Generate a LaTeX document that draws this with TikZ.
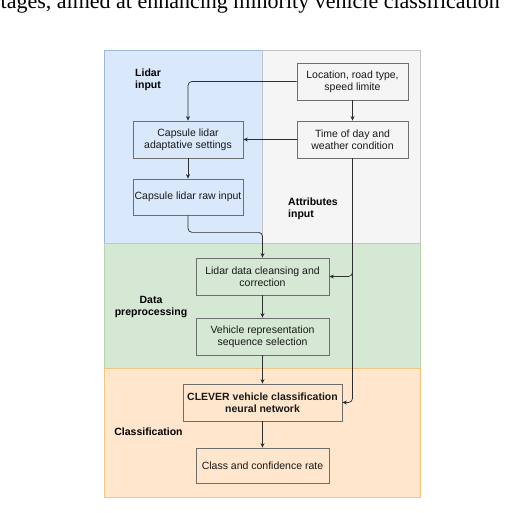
\documentclass[tikz,border=0pt]{standalone}
\usepackage{fontspec}
\setmainfont{Liberation Sans}
\newfontfamily\capfont{Liberation Serif}
\usetikzlibrary{arrows.meta,calc}
\definecolor{bluefill}{HTML}{DAE8FC}
\definecolor{bluestroke}{HTML}{9DB6DE}
\definecolor{greyfill}{HTML}{F5F5F5}
\definecolor{greystroke}{HTML}{C4C4C4}
\definecolor{greenfill}{HTML}{D5E8D4}
\definecolor{greenstroke}{HTML}{B5D5A8}
\definecolor{orangefill}{HTML}{FFE6CC}
\definecolor{orangestroke}{HTML}{F2C682}
\definecolor{boxstroke}{HTML}{6E6E6E}
\definecolor{linecol}{HTML}{2E2E2E}
\begin{document}
\begin{tikzpicture}[x=1pt,y=-1pt,
  region/.style={draw=#1stroke,fill=#1fill,line width=0.8pt},
  stepbox/.style={draw=boxstroke,line width=0.7pt,align=center,inner sep=1pt,
    font=\fontsize{10.5}{12}\selectfont,text=black!90},
  lab/.style={align=center,font=\fontsize{10.5}{12.5}\selectfont\bfseries,text=black},
  arr/.style={draw=linecol,line width=0.7pt,-{Stealth[length=4.5pt,width=4pt]},rounded corners=4pt}]
\useasboundingbox (0,0) rectangle (513,513);
% caption (cropped at the top, as in the reference)
\node[anchor=base west,inner sep=0,font=\capfont\fontsize{22}{24}\selectfont] (cap0) at (0.5,9) {tages, aimed at enhancing minority vehicle classification};
% regions
\path[region=blue] (104,50.5) rectangle (262,243.5);
\path[region=grey] (262,50.5) rectangle (420,243.5);
\path[region=green] (104,243.5) rectangle (420,368);
\path[region=orange] (104,368) rectangle (420,497);
% region labels
\node[lab] (llidar) at (148,80) {Lidar\\input};
\node[lab,align=left] (lattr) at (313,209) {Attributes\\input};
\node[lab] (ldata) at (151,307) {Data\\preprocessing};
\node[lab] (lclass) at (148.5,432) {Classification};
% boxes
\node[stepbox,minimum width=111pt,minimum height=37pt] (loc) at (352.5,81.5) {Location, road type,\\speed limite};
\node[stepbox,minimum width=111pt,minimum height=37pt] (time) at (352.5,139.5) {Time of day and\\weather condition};
\node[stepbox,minimum width=110pt,minimum height=37pt] (cap) at (188,139.5) {Capsule lidar\\adaptative settings};
\node[stepbox,minimum width=110pt,minimum height=36pt] (raw) at (188,197) {Capsule lidar raw input};
\node[stepbox,minimum width=133pt,minimum height=37pt] (clean) at (262.5,276.5) {Lidar data cleansing and\\correction};
\node[stepbox,minimum width=133pt,minimum height=37pt] (veh) at (262.5,336.5) {Vehicle representation\\sequence selection};
\node[stepbox,minimum width=159pt,minimum height=37pt,font=\fontsize{10.5}{12}\selectfont\bfseries] (clever) at (262.5,402.5) {CLEVER vehicle classification\\neural network};
\node[stepbox,minimum width=133pt,minimum height=35pt] (cls) at (262.5,465.5) {Class and confidence rate};
% connectors
\draw[arr] (loc.west) -| (cap.north);
\draw[arr] (loc.south) -- (time.north);
\draw[arr] (time.west) -- (cap.east);
\draw[arr] (cap.south) -- (raw.north);
\draw[arr] (raw.south) -- ++(0,17) -| (clean.north);
\draw[arr] (time.south) |- (clean.east);
\draw[arr] (time.south) |- (clever.east);
\draw[arr] (clean.south) -- (veh.north);
\draw[arr] (veh.south) -- (clever.north);
\draw[arr] (clever.south) -- (cls.north);
\end{tikzpicture}
\end{document}
